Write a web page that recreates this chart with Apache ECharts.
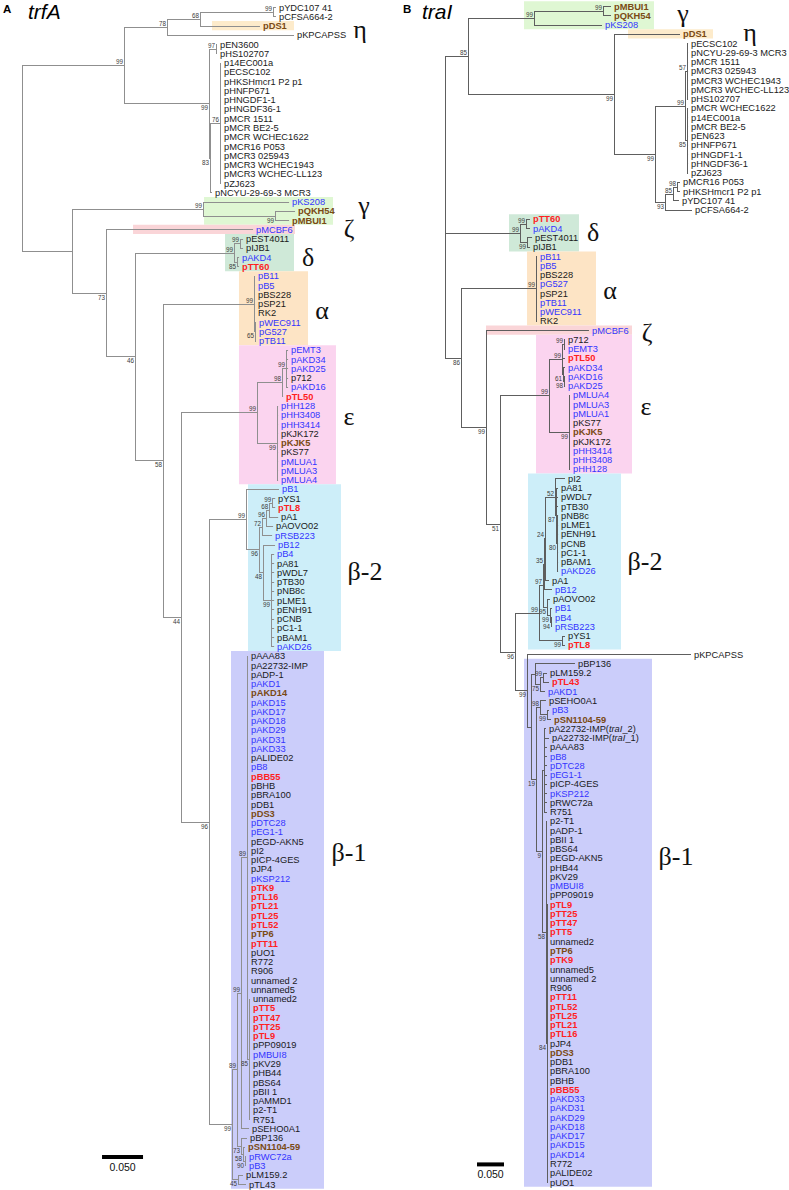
<!DOCTYPE html>
<html><head><meta charset="utf-8">
<script src="https://cdn.jsdelivr.net/npm/echarts@6/dist/echarts.min.js"></script>
<style>html,body{margin:0;padding:0;background:#fff}#c{width:789px;height:1190px}</style>
</head><body><div id="c"></div>
<script>
// ================= DATA =================
// Tree A (trfA) - Newick pieces, branch lengths in substitutions/site, internal labels = bootstrap
const trfA_eta = "((('pYDC107 41':0.0037,'pCFSA664-2':0.0037)99:0.0890,pDS1:0.0732)68:0.0402,pKPCAPSS:0.1549)78:0.0524";
const trfA_mcr = "((pEN3600:0.0012,pHS102707:0.0012)97:0.0085,((p14EC001a:0.0012,pECSC102:0.0012,'pHKSHmcr1 P2 p1':0.0012,pHNFP671:0.0012,pHNGDF1-1:0.0012,pHNGDF36-1:0.0012,'pMCR 1511':0.0012,'pMCR BE2-5':0.0012,'pMCR WCHEC1622':0.0012,'pMCR16 P053':0.0012,'pMCR3 025943':0.0012,'pMCR3 WCHEC1943':0.0012,'pMCR3 WCHEC-LL123':0.0012,pZJ623:0.0012)76:0.0122,'pNCYU-29-69-3 MCR3':0.0024)83:0.0012)99:0.1037";
const trfA_gamma = "(pKS208:0.1049,(pQKH54:0.0244,pMBUI1:0.0171)99:0.0878)99:0.1598";
const trfA_zeta = "pMCBF6:0.1793";
const trfA_delta = "((pEST4011:0.0037,pIJB1:0.0037)99:0.0073,(pAKD4:0.0024,pTT60:0.0024)85:0.0037)99:0.1207";
const trfA_alpha = "(pB11:0.0012,pB5:0.0012,pBS228:0.0012,pSP21:0.0012,RK2:0.0012,(pWEC911:0.0012,pG527:0.0012,pTB11:0.0012)65:0.0012)99:0.1110";
const trfA_epsilon = "(((pEMT3:0.0024,pAKD34:0.0024,pAKD25:0.0024,p712:0.0024,pAKD16:0.0024)99:0.0049,pTL50:0.0012)98:0.0305,(pHH128:0.0012,pHH3408:0.0012,pHH3414:0.0012,pKJK172:0.0012,pKJK5:0.0012,pKS77:0.0012,pMLUA1:0.0012,pMLUA3:0.0012,pMLUA4:0.0012)99:0.0244)99:0.0927";
const trfA_beta2 = "(pB1:0.0402,(((((pYS1:0.0037,pTL8:0.0037)99:0.0037,pA1:0.0110)68:0.0037,pAOVO02:0.0085)96:0.0049,pRSB223:0.0122)72:0.0037,(pB12:0.0146,(pB4:0.0037,pA81:0.0037,pWDL7:0.0037,pTB30:0.0037,pNB8c:0.0037,pLME1:0.0037,pENH91:0.0037,pCNB:0.0037,pC1-1:0.0037,pBAM1:0.0037,pAKD26:0.0037)99:0.0098)48:0.0049)96:0.0159)99:0.0451";
const trfA_beta1 = "((((pAAA83:0.0012,pA22732-IMP:0.0012,pADP-1:0.0012,pAKD1:0.0012,pAKD14:0.0012,pAKD15:0.0012,pAKD17:0.0012,pAKD18:0.0012,pAKD29:0.0012,pAKD31:0.0012,pAKD33:0.0012,pALIDE02:0.0012,pB8:0.0012,pBB55:0.0012,pBHB:0.0012,pBRA100:0.0012,pDB1:0.0012,pDS3:0.0012,pDTC28:0.0012,pEG1-1:0.0012,pEGD-AKN5:0.0012,pI2:0.0012,pICP-4GES:0.0012,pJP4:0.0012,pKSP212:0.0012,pTK9:0.0012,pTL16:0.0012,pTL21:0.0012,pTL25:0.0012,pTL52:0.0012,pTP6:0.0012,pTT11:0.0012,pUO1:0.0012,R772:0.0012,R906:0.0012,'unnamed 2':0.0012,unnamed5:0.0012,(unnamed2:0.0012,pTT5:0.0012,pTT47:0.0012,pTT25:0.0012,pTL9:0.0012,pPP09019:0.0012,pMBUI8:0.0012,pKV29:0.0012,pHB44:0.0012,pBS64:0.0012,'pBII 1':0.0012,pAMMD1:0.0012,p2-T1:0.0012,R751:0.0012)85:0.0024)89:0.0073,pSEHO0A1:0.0098)99:0.0049,(pBP136:0.0073,(pSN1104-59:0.0024,(pRWC72a:0.0012,pB3:0.0012)90:0.0024)58:0.0024)73:0.0049)89:0.0061,(pLM159.2:0.0061,pTL43:0.0098)45:0.0073)99:0.0280";
const trfA_newick = `((${trfA_eta},${trfA_mcr})99:0.1244,(${trfA_gamma},(${trfA_zeta},(${trfA_delta},(${trfA_alpha},(${trfA_epsilon},(${trfA_beta2},${trfA_beta1})96:0.0341)44:0.0220)58:0.0341)46:0.0354)73:0.0415):0.0610);`;

// Tree B (traI)
const traI_gamma = "((pMBUI1:0.0148,pQKH54:0.0148)99:0.1278,pKS208:0.1259)99:0.1222";
const traI_eta = "(pDS1:0.1222,(((pECSC102:0.0019,'pNCYU-29-69-3 MCR3':0.0019,'pMCR 1511':0.0019,'pMCR3 025943':0.0019,'pMCR3 WCHEC1943':0.0019,'pMCR3 WCHEC-LL123':0.0019,pHS102707:0.0019)57:0.0037,('pMCR WCHEC1622':0.0019,p14EC001a:0.0019,'pMCR BE2-5':0.0019,pEN623:0.0019,pHNFP671:0.0019,pHNGDF1-1:0.0019,pHNGDF36-1:0.0019,pZJ623:0.0019)85:0.0037)99:0.0556,((('pMCR16 P053':0.0056,'pHKSHmcr1 P2 p1':0.0056)98:0.0074,'pYDC107 41':0.0111)85:0.0148,pCFSA664-2:0.0500)93:0.0185)99:0.0759)99:0.2704";
const traI_delta = "((pTT60:0.0074,pAKD4:0.0074)99:0.0111,(pEST4011:0.0093,pIJB1:0.0056)99:0.0130)99:0.1389";
const traI_alpha = "(pB11:0.0019,pB5:0.0019,pBS228:0.0019,pG527:0.0019,pSP21:0.0019,pTB11:0.0019,pWEC911:0.0019,RK2:0.0019)99:0.1389";
const traI_zeta = "pMCBF6:0.1907";
const traI_epsilon = "(((p712:0.0019,pEMT3:0.0019)99:0.0037,pTL50:0.0056,(pAKD34:0.0037,(pAKD16:0.0019,pAKD25:0.0019)98:0.0019)61:0.0019)99:0.0241,(pMLUA4:0.0019,pMLUA3:0.0019,pMLUA1:0.0019,pKS77:0.0019,pKJK5:0.0019,pKJK172:0.0019,pHH3414:0.0019,pHH3408:0.0019,pHH128:0.0019)99:0.0370)99:0.0907";
const traI_beta2 = "(((((pI2:0.0185,(pA81:0.0037,pWDL7:0.0037,pTB30:0.0037,(pNB8c:0.0019,pLME1:0.0019,pENH91:0.0019,pCNB:0.0019,pC1-1:0.0019,pBAM1:0.0019,pAKD26:0.0019)80:0.0019)87:0.0019)52:0.0185,pA1:0.0074)24:0.0019,pB12:0.0148)35:0.0019,(pAOVO02:0.0056,(pB1:0.0037,(pB4:0.0019,pRSB223:0.0019)94:0.0019)99:0.0056)95:0.0074)97:0.0074,(pYS1:0.0056,pTL8:0.0056)99:0.0426)99:0.0444";
const traI_beta1 = "((pBP136:0.0741,((pLM159.2:0.0074,pTL43:0.0111)99:0.0056,pAKD1:0.0093)75:0.0093):0.0074,((pSEHO0A1:0.0111,(pB3:0.0037,pSN1104-59:0.0074)99:0.0130)98:0.0074,(('pA22732-IMP(traI_2)':0.0037,'pA22732-IMP(traI_1)':0.0093,pAAA83:0.0056,pB8:0.0056,pDTC28:0.0056,pEG1-1:0.0056,pICP-4GES:0.0056,pKSP212:0.0056,pRWC72a:0.0056,R751:0.0056):0.0037,(p2-T1:0.0019,pADP-1:0.0019,'pBII 1':0.0019,pBS64:0.0019,pEGD-AKN5:0.0019,pHB44:0.0019,pKV29:0.0019,pMBUI8:0.0019,pPP09019:0.0019,(pTL9:0,pTT25:0,pTT47:0,pTT5:0,unnamed2:0,pTP6:0,pTK9:0,unnamed5:0,'unnamed 2':0,R906:0,pTT11:0,pTL52:0,pTL25:0,pTL21:0,pTL16:0,pJP4:0,pDS3:0,pDB1:0,pBRA100:0,pBHB:0,pBB55:0,pAKD33:0,pAKD31:0,pAKD29:0,pAKD18:0,pAKD17:0,pAKD15:0,pAKD14:0,R772:0,pALIDE02:0,pUO1:0)84:0.0019)58:0.0074)9:0.0111)19:0.0093):0.0074";
const traI_newick = `((${traI_gamma},${traI_eta})85:0.0426,${traI_delta},(${traI_alpha},(${traI_zeta},(${traI_epsilon},(${traI_beta2},(pKPCAPSS:0.3037,${traI_beta1})99:0.0222)96:0.0278)51:0.0259)99:0.0463)86:0.0296);`;

// Label colour groups
const trfA_blue = ['pKS208','pMCBF6','pAKD4','pB11','pB5','pWEC911','pG527','pTB11','pEMT3','pAKD34','pAKD25','pAKD16','pHH128','pHH3408','pHH3414','pMLUA1','pMLUA3','pMLUA4','pB1','pRSB223','pB12','pB4','pAKD26','pAKD1','pAKD15','pAKD17','pAKD18','pAKD29','pAKD31','pAKD33','pB8','pDTC28','pEG1-1','pKSP212','pMBUI8','pRWC72a','pB3'];
const trfA_red = ['pTT60','pTL50','pTL8','pBB55','pTK9','pTL16','pTL21','pTL25','pTL52','pTT11','pTT5','pTT47','pTT25','pTL9'];
const trfA_brown = ['pDS1','pQKH54','pMBUI1','pKJK5','pAKD14','pDS3','pTP6','pSN1104-59'];
const traI_blue = ['pKS208','pAKD4','pB11','pB5','pG527','pTB11','pWEC911','pMCBF6','pEMT3','pAKD34','pAKD16','pAKD25','pMLUA4','pMLUA3','pMLUA1','pHH3414','pHH3408','pHH128','pAKD26','pB12','pB1','pB4','pRSB223','pAKD1','pB3','pB8','pDTC28','pEG1-1','pKSP212','pMBUI8','pAKD33','pAKD31','pAKD29','pAKD18','pAKD17','pAKD15','pAKD14'];
const traI_red = ['pTT60','pTL50','pTL8','pTL43','pTL9','pTT25','pTT47','pTT5','pTK9','pTT11','pTL52','pTL25','pTL21','pTL16','pBB55'];
const traI_brown = ['pMBUI1','pQKH54','pDS1','pKJK5','pSN1104-59','pTP6','pDS3'];

// Clades: [symbol, first leaf, last leaf]
const trfA_clades = [['η','pDS1','pDS1'],['γ','pKS208','pMBUI1'],['ζ','pMCBF6','pMCBF6'],['δ','pEST4011','pTT60'],['α','pB11','pTB11'],['ε','pEMT3','pMLUA4'],['β-2','pB1','pAKD26'],['β-1','pAAA83','pTL43']];
const traI_clades = [['γ','pMBUI1','pKS208'],['η','pDS1','pDS1'],['δ','pTT60','pIJB1'],['α','pB11','RK2'],['ζ','pMCBF6','pMCBF6'],['ε','p712','pHH128'],['β-2','pI2','pTL8'],['β-1','pBP136','pUO1']];
const scaleBarValue = 0.05;
const scaleBarText = '0.050';

// ================= LAYOUT / STYLE =================
const cladeFill = {'η':'#fdebcb','γ':'#dff7d3','ζ':'#fad5d8','δ':'#cfe9d8','α':'#fde4c5','ε':'#fbd4ef','β-2':'#cdeef9','β-1':'#cbcdfa'};
// box x-extent (distance units) and symbol anchor [x distance, row]
const layoutA = {
  box: {'η':[0.2317,0.3317],'γ':[0.2220,0.3793],'ζ':[0.1354,0.3329],'δ':[0.2476,0.3317],'α':[0.2646,0.3488],'ε':[0.2646,0.3829],'β-2':[0.2756,0.3890],'β-1':[0.2549,0.3683]},
  sym: {'η':[0.4122,2.4],'γ':[0.4171,21.4],'ζ':[0.3988,23.9],'δ':[0.3488,27.0],'α':[0.3659,32.7],'ε':[0.3988,44.2],'β-2':[0.4183,60.9],'β-1':[0.3988,91.2]},
  bar: [0.0976,124.1,125.1], line:'#8f8f8f'
};
const layoutB = {
  box: {'γ':[0.1463,0.3870],'η':[0.3389,0.4963],'δ':[0.1185,0.2481],'α':[0.1519,0.2796],'ζ':[0.0759,0.3463],'ε':[0.1685,0.3463],'β-2':[0.1537,0.3259],'β-1':[0.1463,0.3833]},
  sym: {'γ':[0.4407,0.8],'η':[0.5648,2.86],'δ':[0.2741,24.5],'α':[0.3056,30.7],'ζ':[0.3741,35.3],'ε':[0.3722,43.3],'β-2':[0.3704,60.0],'β-1':[0.4278,91.9]},
  bar: [0.0593,125.1,126.0], line:'#5e5e5e'
};
const FONT = 'Liberation Sans';

function parseNewick(str) {
  const s = str.trim(); let i = 0;
  const ws = () => { while (i < s.length && /\s/.test(s[i])) i++; };
  function readLabel() {
    ws(); let out = '';
    if (s[i] === "'") { i++; while (i < s.length && s[i] !== "'") out += s[i++]; i++; }
    else { while (i < s.length && !':,();'.includes(s[i])) out += s[i++]; }
    return out.trim();
  }
  function node() {
    ws();
    const n = { name: '', support: '', len: 0, children: [] };
    if (s[i] === '(') {
      i++; n.children.push(node()); ws();
      while (s[i] === ',') { i++; n.children.push(node()); ws(); }
      i++; n.support = readLabel();
    } else { n.name = readLabel(); }
    ws();
    if (s[i] === ':') { i++; let num = ''; while (i < s.length && !',();'.includes(s[i])) num += s[i++]; n.len = parseFloat(num) || 0; }
    return n;
  }
  return node();
}

function layoutTree(newick) {
  const root = parseNewick(newick);
  let row = 0;
  const segs = [], leaves = [], supports = [];
  (function walk(n, depth) {
    n.depth = depth;
    if (!n.children.length) { n.y = row++; leaves.push(n); return; }
    n.children.forEach(c => walk(c, depth + c.len));
    n.y = (n.children[0].y + n.children[n.children.length - 1].y) / 2;
  })(root, 0);
  (function collect(n) {
    if (!n.children.length) return;
    const k = n.children.length;
    segs.push([n.depth, n.children[0].y, n.depth, n.children[k - 1].y]);
    n.children.forEach((c, idx) => {
      segs.push([n.depth, c.y, c.depth, c.y]);
      if (c.support) supports.push({ x: c.depth, y: c.y, t: c.support, below: idx === k - 1 && k > 1 });
      collect(c);
    });
  })(root);
  const rowOf = {}; leaves.forEach(l => rowOf[l.name] = l.y);
  return { segs, leaves, supports, rowOf };
}

function buildSeries(gi, tree, blue, red, brown, clades, lay) {
  const axis = { xAxisIndex: gi, yAxisIndex: gi, coordinateSystem: 'cartesian2d', encode: { x: 0, y: 1 }, silent: true };
  const colorOf = n => red.includes(n) ? ['#ff1f1f', 'bold'] : brown.includes(n) ? ['#7a4a14', 'bold'] : blue.includes(n) ? ['#3434ff', 'normal'] : ['#1a1a1a', 'normal'];
  const series = [];
  // boxes
  series.push(Object.assign({ type: 'custom', z: 1, data: clades.map(c => [lay.box[c[0]][0], tree.rowOf[c[1]]]),
    renderItem: (p, api) => {
      const c = clades[p.dataIndex], bx = lay.box[c[0]];
      const a = api.coord([bx[0], tree.rowOf[c[1]] - 0.5]), b = api.coord([bx[1], tree.rowOf[c[2]] + 0.5]);
      return { type: 'rect', shape: { x: a[0], y: a[1], width: b[0] - a[0], height: b[1] - a[1] }, style: { fill: cladeFill[c[0]] } };
    } }, axis));
  // branches
  series.push(Object.assign({ type: 'custom', z: 2, data: tree.segs.map(s => [s[0], s[1]]),
    renderItem: (p, api) => {
      const s = tree.segs[p.dataIndex];
      const a = api.coord([s[0], s[1]]), b = api.coord([s[2], s[3]]);
      let x1, y1, x2, y2;
      if (s[1] === s[3]) { y1 = y2 = Math.round(a[1]) + 0.5; x1 = Math.round(a[0]); x2 = b[0]; }
      else { x1 = x2 = Math.round(a[0]) + 0.5; y1 = Math.round(a[1]); y2 = Math.round(b[1]) + 1; }
      return { type: 'line', shape: { x1, y1, x2, y2 }, style: { stroke: lay.line, lineWidth: 1 } };
    } }, axis));
  // leaf labels
  series.push(Object.assign({ type: 'custom', z: 3, data: tree.leaves.map(l => [l.depth, l.y]),
    renderItem: (p, api) => {
      const l = tree.leaves[p.dataIndex];
      const pt = api.coord([l.depth, l.y]);
      const [fill, fw] = colorOf(l.name);
      let text = l.name, rich;
      if (text.includes('traI')) { text = text.replace('traI', '{it|traI}'); rich = { it: { fontStyle: 'italic', fontSize: 9.3, fontFamily: FONT, fill } }; }
      const st = { text, fill, fontSize: 9.3, fontFamily: FONT, fontWeight: fw, align: 'left', verticalAlign: 'middle' };
      if (rich) st.rich = rich;
      return { type: 'text', x: Math.round(pt[0]) + 3, y: pt[1] + 0.5, style: st };
    } }, axis));
  // bootstrap values
  series.push(Object.assign({ type: 'custom', z: 4, data: tree.supports.map(s => [s.x, s.y]),
    renderItem: (p, api) => {
      const s = tree.supports[p.dataIndex];
      const pt = api.coord([s.x, s.y]);
      return { type: 'text', x: pt[0] - 1, y: s.below ? pt[1] + 1.5 : pt[1] - 0.5,
        style: { text: s.t, fill: '#3c3c3c', fontSize: 6.3, fontFamily: FONT, align: 'right', verticalAlign: s.below ? 'top' : 'bottom' } };
    } }, axis));
  // clade symbols
  series.push(Object.assign({ type: 'custom', z: 5, data: clades.map(c => lay.sym[c[0]]),
    renderItem: (p, api) => {
      const c = clades[p.dataIndex]; const pt = api.coord(lay.sym[c[0]]);
      return { type: 'text', x: pt[0], y: pt[1], style: { text: c[0], fill: '#111', fontSize: 26, fontFamily: 'Liberation Serif', align: 'center', verticalAlign: 'middle' } };
    } }, axis));
  // scale bar
  series.push(Object.assign({ type: 'custom', z: 5, data: [[lay.bar[0], lay.bar[1]]],
    renderItem: (p, api) => {
      const a = api.coord([lay.bar[0], lay.bar[1]]), b = api.coord([lay.bar[0] + scaleBarValue, lay.bar[1]]);
      const t = api.coord([lay.bar[0] + scaleBarValue / 2, lay.bar[2]]);
      return { type: 'group', children: [
        { type: 'rect', shape: { x: a[0], y: a[1] - 2, width: b[0] - a[0], height: 4 }, style: { fill: '#000' } },
        { type: 'text', x: t[0], y: t[1] + 1, style: { text: scaleBarText, fill: '#111', fontSize: 10.5, fontFamily: FONT, align: 'center', verticalAlign: 'middle' } }
      ] };
    } }, axis));
  return series;
}

const treeA = layoutTree(trfA_newick);
const treeB = layoutTree(traI_newick);

const chart = echarts.init(document.getElementById('c'), null, { renderer: 'svg', width: 789, height: 1190 });
chart.setOption({
  animation: false,
  backgroundColor: '#fff',
  grid: [
    { left: 22, top: 7, width: 369, height: 1177 },
    { left: 445, top: 6, width: 324, height: 1176 }
  ],
  xAxis: [
    { type: 'value', gridIndex: 0, min: 0, max: 0.45, show: false },
    { type: 'value', gridIndex: 1, min: 0, max: 0.6, show: false }
  ],
  yAxis: [
    { type: 'value', gridIndex: 0, min: 0, max: 127, inverse: true, show: false },
    { type: 'value', gridIndex: 1, min: 0, max: 127, inverse: true, show: false }
  ],
  graphic: [
    { type: 'text', x: 3, y: 8.5, style: { text: 'A', fontSize: 11.5, fontWeight: 'bold', fontFamily: FONT, fill: '#000', verticalAlign: 'middle' } },
    { type: 'text', x: 28, y: 11, style: { text: 'trfA', fontSize: 21, fontStyle: 'italic', fontFamily: FONT, fill: '#000', verticalAlign: 'middle' } },
    { type: 'text', x: 403, y: 8.5, style: { text: 'B', fontSize: 11.5, fontWeight: 'bold', fontFamily: FONT, fill: '#000', verticalAlign: 'middle' } },
    { type: 'text', x: 422, y: 11, style: { text: 'traI', fontSize: 21, fontStyle: 'italic', fontFamily: FONT, fill: '#000', verticalAlign: 'middle' } }
  ],
  series: [
    ...buildSeries(0, treeA, trfA_blue, trfA_red, trfA_brown, trfA_clades, layoutA),
    ...buildSeries(1, treeB, traI_blue, traI_red, traI_brown, traI_clades, layoutB)
  ]
});
</script></body></html>
